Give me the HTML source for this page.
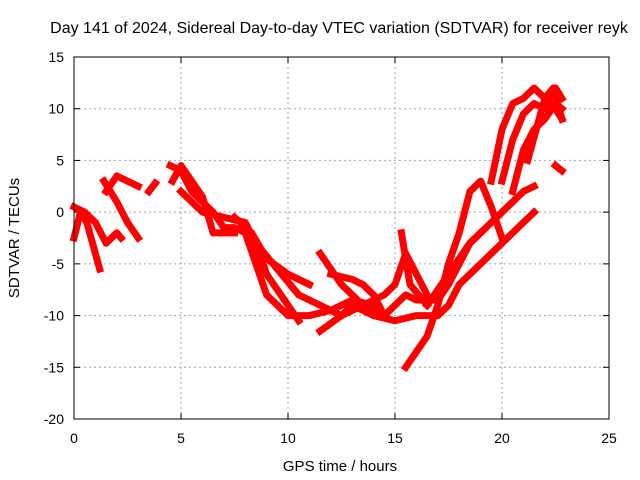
<!DOCTYPE html>
<html><head><meta charset="utf-8">
<style>
body{margin:0;background:#fff;}
svg{display:block;font-family:"Liberation Sans",sans-serif;}
</style></head>
<body>
<svg id="chart" width="640" height="480">
<text x="339" y="33" font-size="16" text-anchor="middle">Day 141 of 2024, Sidereal Day-to-day VTEC variation (SDTVAR) for receiver reyk</text>
<text x="340" y="471" font-size="15" text-anchor="middle">GPS time / hours</text>
<text transform="translate(19,238) rotate(-90)" font-size="15" text-anchor="middle">SDTVAR / TECUs</text>
<g id="grid"></g><g id="ticks"></g><g id="marks"></g>
<rect x="74" y="57" width="535" height="362" fill="none" stroke="#000" stroke-width="1"/>
</svg>
<script>
const xTicks=[0,5,10,15,20,25];
const yTicks=[-20,-15,-10,-5,0,5,10,15];
const track1=[[0,-2.5],[0.3,0],[0.6,-1],[1,-4],[1.2,-5.5]];
const track2=[[0,0.5],[0.5,0],[1,-1],[1.5,-3],[2,-2],[2.2,-2.5]];
const track3=[[1.4,3],[2,1],[2.5,-1],[3,-2.5]];
const track4=[[1.5,2],[2,3.5],[2.5,3],[3,2.5]];
const track5=[[3.5,2],[3.8,2.8]];
const track6=[[4.5,4.5],[5,4],[5.5,2],[6,1],[6.5,0],[7,-1.5],[7.5,-1.5],[8,-2]];
const track7=[[4.6,3],[5,4.5],[5.5,3],[6,1.5],[6.5,-2],[7,-2],[7.5,-2]];
const track8=[[5,2],[6,0],[7,-0.5],[8,-1],[8.5,-3],[9,-6],[10,-9],[10.5,-10.5]];
const track9=[[7.5,-0.5],[8.3,-2],[9,-4.5],[10,-6],[11,-7]];
const track10=[[8,-2],[8.5,-5],[9,-8],[10,-10],[11,-10],[12,-9.5],[13,-8.5],[14,-9]];
const track11=[[8.5,-3],[9.5,-5.5],[10.5,-8],[11.5,-9],[12.5,-10],[13.5,-9],[14.5,-8],[15,-7],[15.5,-4],[16,-6],[16.5,-8]];
const track12=[[11.5,-4],[12.5,-7],[13.5,-9],[14.5,-10]];
const track13=[[12,-6],[13,-6.5],[13.5,-7],[14,-8],[14.5,-10],[15,-9],[15.5,-8],[16,-8.5],[17,-8.5],[17.5,-7],[18,-5],[18.5,-3],[19,-2]];
const track14=[[15.3,-2],[15.7,-7],[16.5,-9]];
const track15=[[15.5,-15],[16.5,-12],[17,-9],[17.5,-5],[18,-2],[18.5,2],[19,3],[19.5,0.5],[20,-2.5]];
const track16=[[11.5,-11.5],[12.5,-10],[13,-9],[14,-10],[15,-10.5],[16,-10],[17,-10],[17.5,-9],[18,-7],[19,-5],[20,-3],[21,-1],[21.5,0]];
const track17=[[16.5,-9],[17.5,-6],[18.5,-3],[19.5,-1],[20.5,1],[21,2],[21.5,2.5]];
const track18=[[19.5,3],[20,8],[20.5,10.5],[21,11],[21.5,12],[22,11],[22.5,10],[22.8,9]];
const track19=[[20,3],[20.5,7],[21,9.5],[21.5,10.5],[22,10],[22.5,12],[22.8,11]];
const track20=[[20.5,2],[21,6],[21.5,8],[22,9],[22.5,10.5],[22.8,10]];
const track21=[[21.2,5],[21.6,8],[22,11],[22.4,12],[22.8,9]];
const track22=[[22.5,4.5],[22.8,4]];
const tracks=[track1,track2,track3,track4,track5,track6,track7,track8,track9,track10,track11,track12,track13,track14,track15,track16,track17,track18,track19,track20,track21,track22];
const NS="http://www.w3.org/2000/svg";
const X0=74,X1=609,Y0=419,Y1=57;
function sx(v){return X0+(v-0)/(25-0)*(X1-X0);}
function sy(v){return Y0-(v+20)/(35)*(Y0-Y1);}
const grid=document.getElementById('grid'),ticks=document.getElementById('ticks'),marks=document.getElementById('marks');
function mk(tag,attrs,parent){const e=document.createElementNS(NS,tag);for(const k in attrs)e.setAttribute(k,attrs[k]);parent.appendChild(e);return e;}
xTicks.forEach(t=>{
  const x=sx(t);
  if(t>0&&t<25){const g=mk('line',{x1:x,x2:x,y1:Y1,y2:Y0,stroke:'#a0a0a0','stroke-dasharray':'2,3'},grid);
    
    }
  mk('line',{x1:x,x2:x,y1:Y0,y2:Y0-6,stroke:'#000'},ticks);
  mk('line',{x1:x,x2:x,y1:Y1,y2:Y1+6,stroke:'#000'},ticks);
  const l=mk('text',{x:x,y:443,'font-size':14,'text-anchor':'middle'},ticks);l.textContent=t;
  
  
});
yTicks.forEach(t=>{
  const y=sy(t);
  if(t>-20&&t<15){const g=mk('line',{x1:X0,x2:X1,y1:y,y2:y,stroke:'#a0a0a0','stroke-dasharray':'2,3'},grid);
    
    }
  mk('line',{x1:X0,x2:X0+6,y1:y,y2:y,stroke:'#000'},ticks);
  mk('line',{x1:X1,x2:X1-6,y1:y,y2:y,stroke:'#000'},ticks);
  const l=mk('text',{x:64,y:y+5,'font-size':14,'text-anchor':'end'},ticks);l.textContent=t;
  
  
});
tracks.forEach((tr,i)=>{
  const p=mk('polyline',{points:tr.map(d=>sx(d[0])+','+sy(d[1])).join(' '),fill:'none',stroke:'#ff0000','stroke-width':7,'stroke-linejoin':'round','stroke-linecap':'square'},marks);
  
  
});
</script>
</body></html>
